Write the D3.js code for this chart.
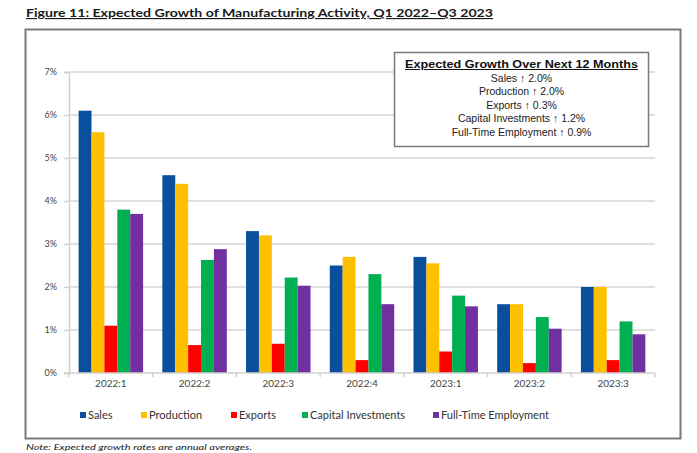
<!DOCTYPE html>
<html>
<head>
<meta charset="utf-8">
<script src="https://cdn.jsdelivr.net/npm/d3@7"></script>
<style>
  html, body { margin: 0; padding: 0; background: #fff; }
  svg { display: block; }
</style>
</head>
<body>
<svg id="chart" width="697" height="453"></svg>
<script>
// Quarters shown on the x axis
const quarters = ["2022:1", "2022:2", "2022:3", "2022:4", "2023:1", "2023:2", "2023:3"];

// Expected growth (%) per series, one value per quarter
const sales        = [6.1, 4.6, 3.3, 2.5, 2.7, 1.6, 2.0];
const production   = [5.6, 4.4, 3.2, 2.7, 2.55, 1.6, 2.0];
const exportsVals  = [1.1, 0.65, 0.68, 0.3, 0.5, 0.23, 0.3];
const capitalInv   = [3.8, 2.63, 2.22, 2.3, 1.8, 1.3, 1.2];
const fullTimeEmp  = [3.7, 2.88, 2.03, 1.6, 1.55, 1.03, 0.9];

const seriesNames  = ["Sales", "Production", "Exports", "Capital Investments", "Full-Time Employment"];
const seriesColors = ["#0a4f9e", "#ffc000", "#ff0000", "#00b050", "#7030a0"];
const yTicks = [0, 1, 2, 3, 4, 5, 6, 7];

// Latest-quarter summary shown in the boxed note
const summaryTitle = "Expected Growth Over Next 12 Months";
const summaryLines = [
  "Sales \u2191 2.0%",
  "Production \u2191 2.0%",
  "Exports \u2191 0.3%",
  "Capital Investments \u2191 1.2%",
  "Full-Time Employment \u2191 0.9%"
];

const allSeries = [sales, production, exportsVals, capitalInv, fullTimeEmp];
const rows = quarters.map((q, i) => ({ q, vals: allSeries.map(s => s[i]) }));

const svg = d3.select("#chart");
const plot = { left: 69, right: 655, top: 72, bottom: 373 };
const uiFont = "Lato, 'Open Sans', sans-serif";

// Title
svg.append("text")
  .attr("x", 26).attr("y", 17)
  .attr("font-family", uiFont)
  .attr("font-weight", "bold")
  .attr("font-size", 11.5)
  .attr("fill", "#1a1a1a")
  .attr("text-decoration", "underline")
  .attr("textLength", 467)
  .attr("lengthAdjust", "spacingAndGlyphs")
  .text("Figure 11: Expected Growth of Manufacturing Activity, Q1 2022\u2013Q3 2023");

// Outer frame
svg.append("rect")
  .attr("x", 25.5).attr("y", 29.5).attr("width", 655).attr("height", 409)
  .attr("fill", "none").attr("stroke", "#7a7a7a").attr("stroke-width", 2);

// Scales
const x0 = d3.scaleBand().domain(quarters)
  .range([plot.left, plot.right])
  .paddingInner(0.23).paddingOuter(0.115);
const x1 = d3.scaleBand().domain(d3.range(seriesNames.length))
  .range([0, x0.bandwidth()]);
const y = d3.scaleLinear().domain([0, 7]).range([plot.bottom, plot.top]);

// Horizontal gridlines
svg.append("g").selectAll("line").data(yTicks.filter(t => t > 0)).join("line")
  .attr("x1", plot.left).attr("x2", plot.right)
  .attr("y1", d => y(d)).attr("y2", d => y(d))
  .attr("stroke", "#d6d6d6").attr("stroke-width", 1.5);

// Y axis
const yAxis = svg.append("g")
  .attr("transform", `translate(${plot.left},0)`)
  .call(d3.axisLeft(y).tickValues(yTicks).tickFormat(d => d + "%").tickSize(5).tickPadding(7));
yAxis.select(".domain").attr("stroke", "#d0d0d0").attr("stroke-width", 1.5);
yAxis.selectAll(".tick line").attr("stroke", "#d0d0d0").attr("stroke-width", 1.5);
yAxis.selectAll(".tick text")
  .attr("font-family", uiFont)
  .attr("font-size", 9).attr("fill", "#444");

// Bars
const groups = svg.append("g").selectAll("g").data(rows).join("g")
  .attr("transform", d => `translate(${x0(d.q)},0)`);
groups.selectAll("rect").data(d => d.vals.map((v, k) => ({ v, k }))).join("rect")
  .attr("x", d => x1(d.k))
  .attr("width", x1.bandwidth())
  .attr("y", d => y(d.v))
  .attr("height", d => y(0) - y(d.v))
  .attr("fill", d => seriesColors[d.k]);

// X axis with category ticks between groups
const xAxis = svg.append("g")
  .attr("transform", `translate(0,${plot.bottom})`);
xAxis.append("line")
  .attr("x1", plot.left - 5).attr("x2", plot.right)
  .attr("stroke", "#d0d0d0").attr("stroke-width", 1.5);
const step = x0.step();
xAxis.selectAll("line.sep").data(d3.range(quarters.length + 1)).join("line")
  .attr("class", "sep")
  .attr("x1", i => plot.left + i * step).attr("x2", i => plot.left + i * step)
  .attr("y1", 0).attr("y2", 4)
  .attr("stroke", "#d0d0d0").attr("stroke-width", 1.5);
xAxis.selectAll("text").data(quarters).join("text")
  .attr("x", d => x0(d) + x0.bandwidth() / 2)
  .attr("y", 14)
  .attr("text-anchor", "middle")
  .attr("font-family", uiFont)
  .attr("font-size", 10).attr("fill", "#444")
  .text(d => d);

// Bottom legend
const legendPos = [80, 141, 231, 302, 433];
const legend = svg.append("g").selectAll("g").data(seriesNames).join("g")
  .attr("transform", (d, i) => `translate(${legendPos[i]},419)`);
legend.append("rect")
  .attr("x", 0).attr("y", -7).attr("width", 6).attr("height", 6)
  .attr("fill", (d, i) => seriesColors[i]);
legend.append("text")
  .attr("x", 8).attr("y", 0)
  .attr("font-family", uiFont)
  .attr("font-size", 11).attr("fill", "#333")
  .text(d => d);

// Summary box
const box = svg.append("g");
box.append("rect")
  .attr("x", 394.5).attr("y", 52.5).attr("width", 254).attr("height", 94)
  .attr("fill", "#fff").attr("stroke", "#7a7a7a").attr("stroke-width", 1.5);
box.append("text")
  .attr("x", 521.5).attr("y", 68)
  .attr("text-anchor", "middle")
  .attr("font-family", "'Liberation Sans', Arial, sans-serif")
  .attr("font-weight", "bold").attr("font-size", 10)
  .attr("text-decoration", "underline")
  .attr("fill", "#111")
  .attr("textLength", 233).attr("lengthAdjust", "spacingAndGlyphs")
  .text(summaryTitle);
box.selectAll("text.line").data(summaryLines).join("text")
  .attr("class", "line")
  .attr("x", 521.5).attr("y", (d, i) => 82 + i * 13.4)
  .attr("text-anchor", "middle")
  .attr("font-family", "'Liberation Sans', Arial, sans-serif")
  .attr("font-size", 10.5).attr("fill", "#222")
  .text(d => d);

// Footnote
svg.append("text")
  .attr("x", 26).attr("y", 450)
  .attr("font-family", uiFont)
  .attr("font-style", "italic").attr("font-size", 8.5)
  .attr("fill", "#222")
  .attr("textLength", 226).attr("lengthAdjust", "spacingAndGlyphs")
  .text("Note: Expected growth rates are annual averages.");
</script>
</body>
</html>
